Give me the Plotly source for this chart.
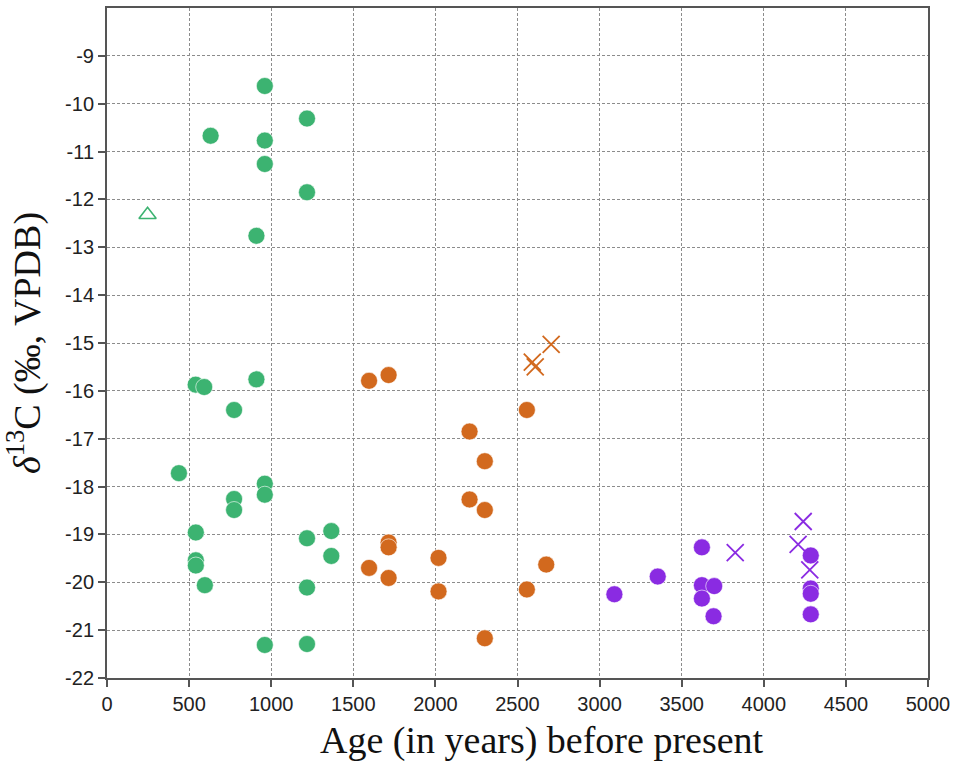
import plotly.graph_objects as go

# Green (circles)
green_age = [961, 1218, 631, 961, 961, 1218, 910, 540, 592, 910, 774, 438, 961, 961, 774, 774,
             541, 541, 541, 596, 1218, 1218, 961, 1218, 1366, 1366]
green_d13c = [-9.63, -10.31, -10.67, -10.77, -11.26, -11.85, -12.76, -15.87, -15.92, -15.76, -16.40,
              -17.72, -17.94, -18.17, -18.26, -18.49, -18.96, -19.54, -19.65, -20.06, -19.08, -20.11,
              -21.31, -21.29, -18.93, -19.45]
# Green (open triangle)
green_tri_age = [247]
green_tri_d13c = [-12.32]

# Orange (circles)
orange_age = [1596, 1715, 2557, 2208, 2301, 2208, 2301, 1715, 1715, 1596, 1715, 2019, 2019, 2675, 2557, 2301]
orange_d13c = [-15.79, -15.67, -16.40, -16.85, -17.47, -18.27, -18.49, -19.17, -19.27, -19.70, -19.91,
               -19.49, -20.19, -19.63, -20.15, -21.17]
# Orange (crosses)
orange_x_age = [2705, 2590, 2608]
orange_x_d13c = [-15.03, -15.40, -15.50]

# Purple (circles)
purple_age = [3090, 3354, 3623, 3623, 3698, 3623, 3694, 4286, 4286, 4286, 4286]
purple_d13c = [-20.25, -19.88, -19.27, -20.06, -20.08, -20.34, -20.71, -19.44, -20.13, -20.24, -20.67]
# Purple (crosses)
purple_x_age = [3826, 4240, 4209, 4280]
purple_x_d13c = [-19.38, -18.73, -19.21, -19.74]

x_ticks = [0, 500, 1000, 1500, 2000, 2500, 3000, 3500, 4000, 4500, 5000]
y_ticks = [-22, -21, -20, -19, -18, -17, -16, -15, -14, -13, -12, -11, -10, -9]

GREEN = "#3cb371"
ORANGE = "#d2691e"
PURPLE = "#8a2be2"

fig = go.Figure()

def circles(x, y, c):
    fig.add_trace(go.Scatter(x=x, y=y, mode="markers", showlegend=False,
                             marker=dict(symbol="circle", size=17, color=c,
                                         line=dict(width=1, color="rgba(255,255,255,0.6)"))))

def crosses(x, y, c):
    fig.add_trace(go.Scatter(x=x, y=y, mode="markers", showlegend=False,
                             marker=dict(symbol="x-thin", size=17, color=c,
                                         line=dict(width=1.8, color=c))))

circles(green_age, green_d13c, GREEN)
fig.add_trace(go.Scatter(x=green_tri_age, y=green_tri_d13c, mode="markers", showlegend=False,
                         marker=dict(symbol="triangle-up-open", size=15, color=GREEN,
                                     line=dict(width=1.6, color=GREEN))))
circles(orange_age, orange_d13c, ORANGE)
crosses(orange_x_age, orange_x_d13c, ORANGE)
circles(purple_age, purple_d13c, PURPLE)
crosses(purple_x_age, purple_x_d13c, PURPLE)

tick_font = dict(family="Liberation Sans Narrow, Liberation Sans, Arial", size=20, color="#222")
title_font = dict(family="Liberation Serif, Times New Roman, serif", size=38, color="#111")

fig.update_layout(
    width=956, height=763,
    margin=dict(l=107, r=27, t=6, b=85),
    paper_bgcolor="white", plot_bgcolor="white",
    xaxis=dict(range=[0, 5000], tickvals=x_ticks, ticktext=[str(v) for v in x_ticks],
               showgrid=True, gridcolor="#8c8c8c", gridwidth=1, griddash="3px,2px",
               showline=True, linecolor="#555", linewidth=2, mirror=True,
               ticks="outside", ticklen=7, tickwidth=2, tickcolor="#555",
               tickfont=tick_font, zeroline=False),
    yaxis=dict(range=[-22, -8], tickvals=y_ticks, ticktext=[str(v) for v in y_ticks],
               showgrid=True, gridcolor="#8c8c8c", gridwidth=1, griddash="3px,2px",
               showline=True, linecolor="#555", linewidth=2, mirror=True,
               ticks="outside", ticklen=7, tickwidth=2, tickcolor="#555",
               tickfont=tick_font, zeroline=False,
               title=dict(text="<i>δ</i><sup>13</sup>C (‰, VPDB)", font=title_font, standoff=18)),
    annotations=[dict(text="Age (in years) before present", xref="paper", yref="paper",
                      x=0.530, y=0, yshift=-62, xanchor="center", yanchor="middle",
                      showarrow=False, font=title_font)],
)

fig.write_html("out.html")
